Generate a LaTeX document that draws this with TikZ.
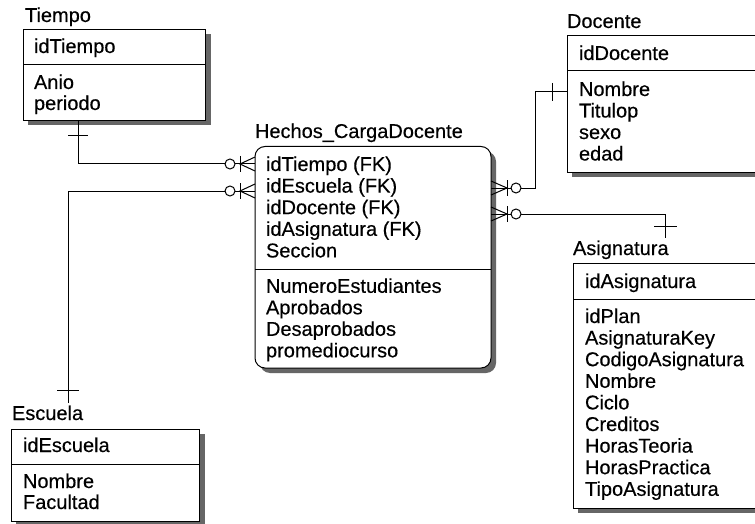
\documentclass[tikz,border=0pt]{standalone}
\usepackage{fontspec}
\setmainfont{Liberation Sans}
\newfontfamily\erfont{Liberation Sans}[FakeBold=0.35]
\usetikzlibrary{shadows}
\newcommand\erfootleft[1]{%
  \draw (255,#1-7) -- (240,#1) -- (255,#1+7);
  \draw (240,#1-8) -- (240,#1+8);
  \draw[fill=white] (230,#1) circle (5pt);}
\newcommand\erfootright[1]{%
  \draw (491,#1-7) -- (507,#1) -- (491,#1+7);
  \draw (507,#1-8) -- (507,#1+8);
  \draw[fill=white] (516,#1) circle (5pt);}
\begin{document}
\begin{tikzpicture}[x=1pt,y=-1pt,line width=1pt,
  ent/.style={draw, fill=white, inner sep=0pt, outer sep=0pt, anchor=north west,
    drop shadow={shadow xshift=5pt, shadow yshift=-5pt, fill=black!60, opacity=1, shadow scale=1}},
  txt/.style={anchor=base west, inner sep=0pt, outer sep=0pt, font=\erfont\fontsize{20}{24}\selectfont}]
\useasboundingbox (0,0) rectangle (755,524);
\clip (0,0) rectangle (755,524);
\fill[white] (0,0) rectangle (755,524);

% ---- entity boxes ----
\node[ent, minimum width=182.5pt, minimum height=91pt] (tiempo) at (23,29.5) {};
\node[ent, minimum width=236pt, minimum height=221.5pt, rounded corners=10pt] (hechos) at (255,146.5) {};
\node[ent, minimum width=240pt, minimum height=136pt] (docente) at (567,36) {};
\node[ent, minimum width=240pt, minimum height=244.5pt] (asig) at (573,263.5) {};
\node[ent, minimum width=188.5pt, minimum height=92pt] (escuela) at (11,429) {};

% separators
\coordinate (s1) at (0,65);
\coordinate (s2) at (0,269);
\coordinate (s3) at (0,71);
\coordinate (s4) at (0,299);
\coordinate (s5) at (0,464.5);
\draw (tiempo.west |- s1) -- (tiempo.east |- s1);
\draw (hechos.west |- s2) -- (hechos.east |- s2);
\draw (docente.west |- s3) -- (docente.east |- s3);
\draw (asig.west |- s4) -- (asig.east |- s4);
\draw (escuela.west |- s5) -- (escuela.east |- s5);

% ---- titles ----
\node[txt] (tt) at (25,22) {Tiempo};
\node[txt] (ht) at (255,138) {Hechos\_CargaDocente};
\node[txt] (dt) at (567,28) {Docente};
\node[txt] (at) at (573,255) {Asignatura};
\node[txt] (et) at (12,420) {Escuela};

% ---- Tiempo rows ----
\node[txt] (t1) at (34,53) {idTiempo};
\node[txt] (t2) at (34,89) {Anio};
\node[txt] (t3) at (34,110) {periodo};

% ---- Hechos rows ----
\node[txt] (h1) at (266,171) {idTiempo (FK)};
\node[txt] (h2) at (266,192.6) {idEscuela (FK)};
\node[txt] (h3) at (266,214.2) {idDocente (FK)};
\node[txt] (h4) at (266,235.8) {idAsignatura (FK)};
\node[txt] (h5) at (266,257.4) {Seccion};
\node[txt] (h6) at (266,292.8) {NumeroEstudiantes};
\node[txt] (h7) at (266,314.3) {Aprobados};
\node[txt] (h8) at (266,335.8) {Desaprobados};
\node[txt] (h9) at (266,357.3) {promediocurso};

% ---- Docente rows ----
\node[txt] (d1) at (579,60) {idDocente};
\node[txt] (d2) at (579,96) {Nombre};
\node[txt] (d3) at (579,117.5) {Titulop};
\node[txt] (d4) at (579,139) {sexo};
\node[txt] (d5) at (579,160.5) {edad};

% ---- Asignatura rows ----
\node[txt] (a1) at (585,288) {idAsignatura};
\node[txt] (a2) at (585,323) {idPlan};
\node[txt] (a3) at (585,344.6) {AsignaturaKey};
\node[txt] (a4) at (585,366.2) {CodigoAsignatura};
\node[txt] (a5) at (585,387.8) {Nombre};
\node[txt] (a6) at (585,409.4) {Ciclo};
\node[txt] (a7) at (585,431) {Creditos};
\node[txt] (a8) at (585,452.6) {HorasTeoria};
\node[txt] (a9) at (585,474.2) {HorasPractica};
\node[txt] (a10) at (585,495.8) {TipoAsignatura};

% ---- Escuela rows ----
\node[txt] (e1) at (23,452) {idEscuela};
\node[txt] (e2) at (23,488) {Nombre};
\node[txt] (e3) at (23,509) {Facultad};

% ---- connectors ----
\coordinate (bt) at (78,164);
\draw (bt |- tiempo.south) -- (bt) -- (bt -| hechos.west);
\draw (68,136) -- (88,136);
\erfootleft{164}

\coordinate (be) at (68,191);
\coordinate (ee) at (68,403);
\draw (ee) -- (be) -- (be -| hechos.west);
\draw (57,390) -- (79,390);
\erfootleft{191}

\coordinate (bd1) at (535,188);
\coordinate (bd2) at (535,92);
\draw (bd1 -| hechos.east) -- (bd1) -- (bd2) -- (bd2 -| docente.west);
\draw (552,83) -- (552,101);
\erfootright{188}

\coordinate (ba1) at (665,214);
\coordinate (ba2) at (665,238);
\draw (ba1 -| hechos.east) -- (ba1) -- (ba2);
\draw (654,226) -- (677,226);
\erfootright{214}
\end{tikzpicture}
\end{document}
